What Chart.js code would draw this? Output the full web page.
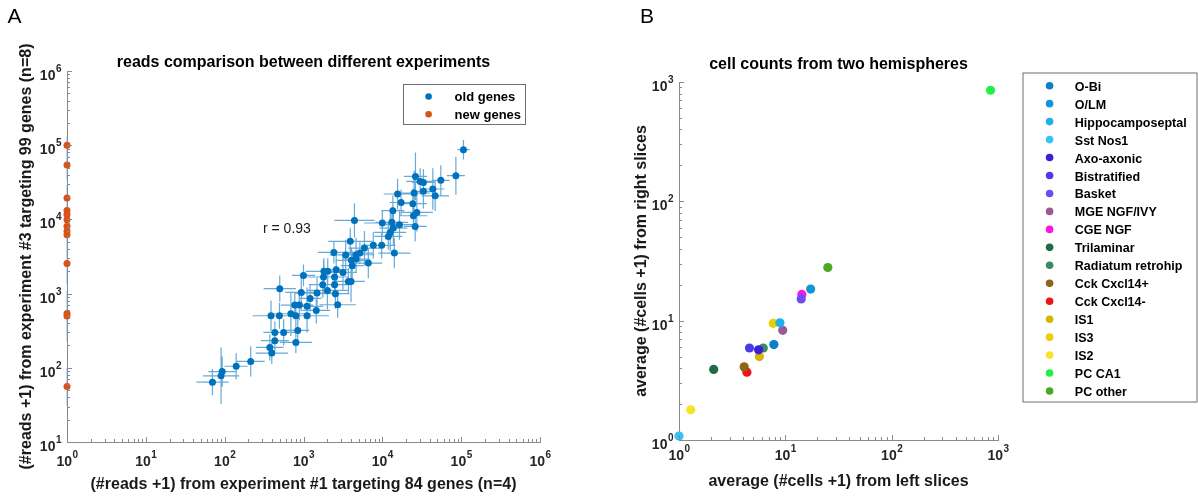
<!DOCTYPE html>
<html>
<head>
<meta charset="utf-8">
<script src="https://cdn.jsdelivr.net/npm/chart.js@4.4.0/dist/chart.umd.min.js"></script>
<style>
  html, body { margin: 0; padding: 0; background: #fff; }
  #wrap { position: relative; width: 1198px; height: 497px; }
  .panel { position: absolute; top: 0; height: 497px; }
  #panelA { left: 0; width: 600px; }
  #panelB { left: 600px; width: 598px; }
</style>
</head>
<body>
<div id="wrap">
  <div class="panel" id="panelA"><canvas id="chartA" width="600" height="497"></canvas></div>
  <div class="panel" id="panelB"><canvas id="chartB" width="598" height="497"></canvas></div>
</div>
<script>
// Panel A: (#reads + 1), experiment #1 (x) against experiment #3 (y)
const oldGenesX = [
  70, 90, 93, 140, 214, 396, 374, 433, 433, 560,
  387, 495, 500, 800, 846, 800, 692, 775, 885, 937,
  1000, 1109, 1109, 1213, 1452, 1484, 1755, 1795, 1815, 2030,
  2010, 2480, 2480, 2540, 2600, 2715, 2430, 3170, 3430, 3710,
  4010, 4150, 4060, 4640, 4640, 6640, 5930, 7680, 9820, 14200,
  3920, 5190, 107000, 85700, 26300, 30200, 33200, 55200, 43700, 46800,
  33200, 25300, 15600, 17300, 24400, 13600, 27400, 24800, 4430, 10000,
  13200, 13800, 16500, 12600, 11900, 26100
];
const oldGenesY = [
  64, 78, 89, 105, 122, 158, 188, 232, 300, 300,
  503, 503, 1166, 220, 319, 503, 535, 701, 701, 1038,
  1757, 503, 673, 861, 593, 1018, 1318, 1673, 1995, 1995,
  1105, 1318, 1673, 998, 2100, 708, 3590, 1930, 3311, 1459,
  1459, 2377, 2805, 2924, 3340, 2582, 4110, 4470, 4470, 3520,
  5060, 3520, 86900, 38800, 38000, 32500, 31500, 33600, 25700, 20800,
  23900, 22700, 22000, 16900, 16300, 13100, 12400, 11200, 9700, 8940,
  9120, 7650, 8490, 6680, 5900, 8050
];
// error bars as multiplicative spread (value / f ... value * f)
const oldGenesXErr = [
  1.6, 1.7, 1.5, 1.4, 1.5, 1.6, 1.5, 1.5, 1.4, 1.5,
  1.7, 1.6, 1.6, 1.6, 1.4, 1.7, 1.8, 1.5, 1.5, 1.6,
  1.4, 1.9, 1.6, 1.4, 1.5, 1.9, 1.5, 1.6, 1.7, 1.5,
  1.8, 1.6, 1.5, 1.5, 1.4, 1.7, 1.6, 1.5, 1.6, 1.6,
  1.5, 1.4, 1.6, 1.5, 1.7, 1.5, 1.6, 1.4, 1.5, 1.6,
  1.9, 1.5, 1.2, 1.3, 1.4, 1.5, 1.4, 1.3, 1.4, 1.5,
  1.4, 1.6, 1.5, 1.4, 1.5, 1.4, 1.6, 1.5, 1.8, 1.7,
  1.6, 1.5, 1.5, 1.6, 1.5, 1.4
];
const oldGenesYErr = [
  1.5, 2.4, 1.6, 1.5, 1.6, 1.4, 1.5, 1.4, 1.4, 1.5,
  1.6, 1.5, 1.5, 1.4, 1.6, 1.5, 2.0, 1.5, 1.6, 1.8,
  1.4, 1.7, 1.8, 1.5, 1.5, 1.6, 1.5, 1.7, 1.5, 1.5,
  1.8, 1.5, 1.4, 1.6, 1.6, 1.5, 1.4, 1.7, 1.6, 1.5,
  1.9, 1.6, 1.5, 1.4, 1.7, 1.6, 1.7, 1.5, 1.5, 1.6,
  1.5, 1.4, 1.35, 1.8, 2.1, 1.5, 1.5, 1.6, 1.9, 1.6,
  1.7, 2.0, 1.6, 1.5, 1.6, 1.6, 1.8, 1.5, 1.7, 1.5,
  1.6, 1.7, 1.6, 1.8, 1.5, 1.6
];
const newGenesX = [1, 1, 1, 1, 1, 1, 1, 1, 1, 1, 1, 1, 1];
const newGenesY = [100000, 54000, 19500, 13200, 11600, 9900, 8100, 6900, 6200, 2550, 540, 500, 56];
const newGenesYErr = [1.3, 1.6, 1.5, 1.5, 1.4, 1.5, 1.6, 1.5, 1.7, 1.9, 2.0, 2.2, 1.8];
const readXTicks = [1, 10, 100, 1000, 10000, 100000, 1000000];
const readYTicks = [10, 100, 1000, 10000, 100000, 1000000];

// Panel B: average (#cells + 1), left vs right hemisphere
const cellTypes = ['O-Bi', 'O/LM', 'Hippocamposeptal', 'Sst Nos1', 'Axo-axonic', 'Bistratified',
  'Basket', 'MGE NGF/IVY', 'CGE NGF', 'Trilaminar', 'Radiatum retrohip', 'Cck Cxcl14+',
  'Cck Cxcl14-', 'IS1', 'IS3', 'IS2', 'PC CA1', 'PC other'];
const leftCounts = [7.8, 17.3, 8.9, 1.0, 5.6, 4.6, 14.1, 9.45, 14.3, 2.12, 6.2, 4.1, 4.35, 5.7, 7.7, 1.29, 851, 25.1];
const rightCounts = [6.3, 18.4, 9.6, 1.08, 5.7, 5.9, 15.2, 8.3, 16.6, 3.9, 5.9, 4.1, 3.7, 5.0, 9.5, 1.79, 853, 27.9];
const countTicks = [1, 10, 100, 1000];

const cellColors = ['#0a80c6', '#1296da', '#22aeec', '#35c3f6', '#3a1fd6', '#4d3ce6',
  '#6b4df2', '#9a5a99', '#ff14e4', '#1f6b48', '#3b8a63', '#8a6812', '#f01414',
  '#d6b400', '#ebcf00', '#f7e328', '#22f044', '#4aa824'];

const FONT = "'Liberation Sans', Arial, Helvetica, sans-serif";

// MATLAB-ish axes: inward log ticks, 10^n labels, error bars, title and boxed legend
const matlabAxes = {
  id: 'matlabAxes',
  beforeDatasetsDraw(chart) {
    const { ctx, scales: { x, y } } = chart;
    ctx.save();
    ctx.lineWidth = 1.2;
    chart.data.datasets.forEach(ds => {
      if (!ds.errX && !ds.errY) return;
      ctx.strokeStyle = ds.errColor;
      ctx.beginPath();
      ds.data.forEach((p, i) => {
        const px = x.getPixelForValue(p.x);
        const py = y.getPixelForValue(p.y);
        if (ds.errX) {
          ctx.moveTo(x.getPixelForValue(p.x / ds.errX[i]), py);
          ctx.lineTo(x.getPixelForValue(p.x * ds.errX[i]), py);
        }
        if (ds.errY) {
          ctx.moveTo(px, y.getPixelForValue(p.y / ds.errY[i]));
          ctx.lineTo(px, y.getPixelForValue(p.y * ds.errY[i]));
        }
      });
      ctx.stroke();
    });
    ctx.restore();
  },
  afterDraw(chart, args, opts) {
    const { ctx, chartArea: a, scales: { x, y } } = chart;
    ctx.save();

    // inward tick marks, major + minor
    ctx.strokeStyle = opts.axisColor;
    ctx.lineWidth = 1;
    ctx.beginPath();
    const addTicks = (ticks, horizontal) => {
      ticks.forEach((v, i) => {
        const marks = [[v, 5]];
        if (i < ticks.length - 1) {
          for (let k = 2; k < 10; k++) marks.push([v * k, 3]);
        }
        marks.forEach(([val, len]) => {
          if (horizontal) {
            const px = Math.round(x.getPixelForValue(val)) + 0.5;
            ctx.moveTo(px, a.bottom);
            ctx.lineTo(px, a.bottom - len);
          } else {
            const py = Math.round(y.getPixelForValue(val)) + 0.5;
            ctx.moveTo(a.left, py);
            ctx.lineTo(a.left + len, py);
          }
        });
      });
    };
    addTicks(opts.xTicks, true);
    addTicks(opts.yTicks, false);
    ctx.stroke();

    // 10^n tick labels
    ctx.fillStyle = '#262626';
    ctx.textBaseline = 'alphabetic';
    ctx.textAlign = 'left';
    const base = 'bold 14px ' + FONT;
    const sup = 'bold 10px ' + FONT;
    const powLabel = (v, cx, baseY, centred) => {
      const e = String(Math.round(Math.log10(v)));
      ctx.font = base;
      const wb = ctx.measureText('10').width;
      ctx.font = sup;
      const ws = ctx.measureText(e).width;
      const x0 = centred ? cx - (wb + ws) / 2 : cx - wb - ws;
      ctx.font = base;
      ctx.fillText('10', x0, baseY);
      ctx.font = sup;
      ctx.fillText(e, x0 + wb + 0.5, baseY - 8);
    };
    opts.xTicks.forEach(v => powLabel(v, x.getPixelForValue(v), a.bottom + opts.xLabelDrop, true));
    opts.yTicks.forEach(v => powLabel(v, a.left - 6, y.getPixelForValue(v) + 9, false));

    // title
    ctx.fillStyle = '#000';
    ctx.font = 'bold 16px ' + FONT;
    ctx.textAlign = 'center';
    ctx.fillText(opts.title, (a.left + a.right) / 2, opts.titleY);

    // panel letter
    ctx.font = '21px ' + FONT;
    ctx.textAlign = 'left';
    ctx.fillText(opts.panel, opts.panelX, 23);

    if (opts.note) {
      ctx.fillStyle = '#1a1a1a';
      ctx.font = '14px ' + FONT;
      ctx.fillText(opts.note, opts.noteX, opts.noteY);
    }

    // legend
    const lg = opts.legend;
    ctx.fillStyle = '#fff';
    ctx.fillRect(lg.x, lg.y, lg.w, lg.h);
    ctx.strokeStyle = '#6e6e6e';
    ctx.lineWidth = 1;
    ctx.strokeRect(lg.x + 0.5, lg.y + 0.5, lg.w, lg.h);
    chart.data.datasets.forEach((ds, i) => {
      const cy = lg.firstY + i * lg.rowH;
      ctx.fillStyle = ds.backgroundColor;
      ctx.beginPath();
      ctx.arc(lg.markerX, cy, lg.radius, 0, Math.PI * 2);
      ctx.fill();
      ctx.fillStyle = '#000';
      ctx.font = lg.font;
      ctx.fillText(ds.label, lg.textX, cy + lg.textDrop);
    });
    ctx.restore();
  }
};

function logAxis(min, max, size, horizontal, titleText, titlePad) {
  return {
    type: 'logarithmic',
    min: min,
    max: max,
    afterFit: s => { if (horizontal) s.height = size; else s.width = size; },
    ticks: { display: false },
    grid: { display: false, drawTicks: false },
    border: { display: true, color: '#8a8a8a', width: 1 },
    title: {
      display: true,
      text: titleText,
      color: '#1a1a1a',
      font: { family: FONT, size: 16, weight: 'bold' },
      padding: titlePad
    }
  };
}

const chartA = new Chart(document.getElementById('chartA'), {
  type: 'scatter',
  data: {
    datasets: [
      {
        label: 'old genes',
        data: oldGenesX.map((v, i) => ({ x: v, y: oldGenesY[i] })),
        errX: oldGenesXErr,
        errY: oldGenesYErr,
        errColor: 'rgba(0, 114, 189, 0.6)',
        backgroundColor: '#0072BD',
        pointRadius: 3.5,
        borderWidth: 0,
        clip: false
      },
      {
        label: 'new genes',
        data: newGenesX.map((v, i) => ({ x: v, y: newGenesY[i] })),
        errY: newGenesYErr,
        errColor: 'rgba(80, 160, 225, 0.55)',
        backgroundColor: '#D95319',
        pointRadius: 3.5,
        borderWidth: 0,
        clip: false
      }
    ]
  },
  options: {
    responsive: false,
    animation: false,
    events: [],
    layout: { padding: { top: 71, right: 60, bottom: 0, left: 0 } },
    plugins: {
      legend: { display: false },
      tooltip: { enabled: false },
      matlabAxes: {
        axisColor: '#8a8a8a',
        xTicks: readXTicks,
        yTicks: readYTicks,
        xLabelDrop: 24,
        title: 'reads comparison between different experiments',
        titleY: 67,
        panel: 'A',
        panelX: 7.5,
        note: 'r = 0.93',
        noteX: 263,
        noteY: 233,
        legend: { x: 403, y: 84, w: 122, h: 40, markerX: 428.6, textX: 454.6,
                  firstY: 96.5, rowH: 17.8, radius: 3.3, textDrop: 4.5, font: 'bold 13px ' + FONT }
      }
    },
    scales: {
      x: logAxis(1, 1000000, 55, true,
        '(#reads +1) from experiment #1 targeting 84 genes (n=4)', { top: 0, bottom: 3 }),
      y: logAxis(10, 1000000, 67, false,
        '(#reads +1) from experiment #3 targeting 99 genes (n=8)', { top: 17, bottom: 0 })
    }
  },
  plugins: [matlabAxes]
});

const chartB = new Chart(document.getElementById('chartB'), {
  type: 'scatter',
  data: {
    datasets: cellTypes.map((name, i) => ({
      label: name,
      data: [{ x: leftCounts[i], y: rightCounts[i] }],
      backgroundColor: cellColors[i],
      pointRadius: 4.6,
      borderWidth: 0,
      clip: false
    }))
  },
  options: {
    responsive: false,
    animation: false,
    events: [],
    layout: { padding: { top: 82, right: 200, bottom: 0, left: 0 } },
    plugins: {
      legend: { display: false },
      tooltip: { enabled: false },
      matlabAxes: {
        axisColor: '#8a8a8a',
        xTicks: countTicks,
        yTicks: countTicks,
        xLabelDrop: 20,
        title: 'cell counts from two hemispheres',
        titleY: 69,
        panel: 'B',
        panelX: 40,
        legend: { x: 422.5, y: 72.5, w: 174, h: 329, markerX: 449.6, textX: 474.8,
                  firstY: 85.7, rowH: 17.96, radius: 3.8, textDrop: 5, font: 'bold 12.5px ' + FONT }
      }
    },
    scales: {
      x: logAxis(1, 1000, 57, true, 'average (#cells +1) from left slices', { top: 0, bottom: 6 }),
      y: logAxis(1, 1000, 79, false, 'average (#cells +1) from right slices', { top: 32, bottom: 0 })
    }
  },
  plugins: [matlabAxes]
});
</script>
</body>
</html>
